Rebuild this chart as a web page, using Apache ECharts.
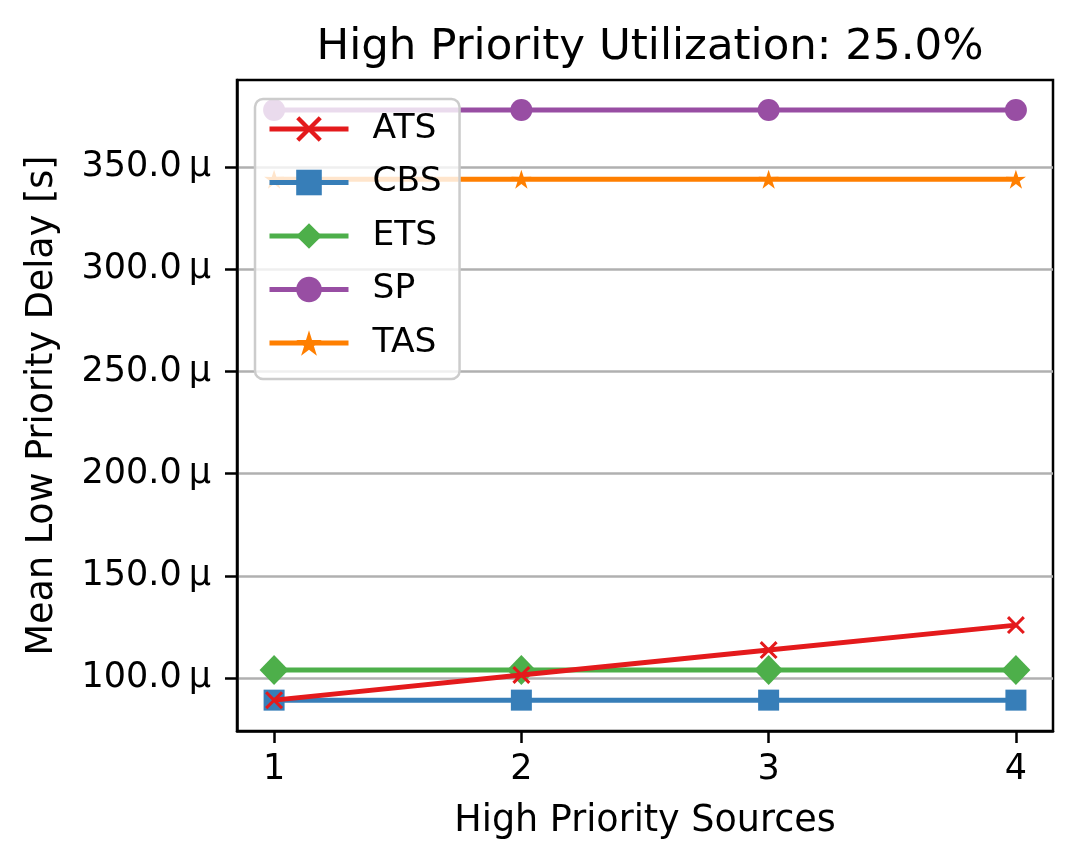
<!DOCTYPE html>
<html>
<head>
<meta charset="utf-8">
<script src="https://cdn.jsdelivr.net/npm/echarts@6/dist/echarts.min.js"></script>
<style>html,body{margin:0;padding:0;background:#fff}#c{width:1080px;height:868px}</style>
</head>
<body>
<div id="c"></div>
<script>
const sources = [1, 2, 3, 4];
const seriesNames = ['ATS', 'CBS', 'ETS', 'SP', 'TAS'];
const ATS = [89.2, 101.5, 113.7, 125.9];
const CBS = [89.2, 89.2, 89.2, 89.2];
const ETS = [103.9, 103.9, 103.9, 103.9];
const SP = [377.9, 377.9, 377.9, 377.9];
const TAS = [344.1, 344.1, 344.1, 344.1];
const yTicks = [100, 150, 200, 250, 300, 350];
const xTicks = [1, 2, 3, 4];

const colors = {ATS:'#e41a1c', CBS:'#377eb8', ETS:'#4daf4a', SP:'#984ea3', TAS:'#ff7f00'};
const crossPath = 'path://M0,1.2 L1.2,0 L5,3.8 L8.8,0 L10,1.2 L6.2,5 L10,8.8 L8.8,10 L5,6.2 L1.2,10 L0,8.8 L3.8,5 Z';
const starPath = 'path://M50,0 L61.2,34.6 L97.6,34.5 L68.1,55.9 L79.4,90.5 L50,69 L20.6,90.5 L31.9,55.9 L2.4,34.5 L38.8,34.6 Z';
const symbols = {
  ATS: {symbol: crossPath, size: 18},
  CBS: {symbol: 'rect', size: 21},
  ETS: {symbol: 'diamond', size: [29, 30]},
  SP: {symbol: 'circle', size: 22},
  TAS: {symbol: starPath, size: 20}
};
const dataMap = {ATS, CBS, ETS, SP, TAS};
const zMap = {ATS: 10, CBS: 3, ETS: 4, SP: 5, TAS: 6};
const font = 'DejaVu Sans';

const series = seriesNames.map(n => ({
  name: n,
  type: 'line',
  data: sources.map((x, i) => [x, dataMap[n][i]]),
  symbol: symbols[n].symbol,
  symbolSize: symbols[n].size,
  symbolKeepAspect: true,
  showAllSymbol: true,
  z: zMap[n],
  lineStyle: {color: colors[n], width: 5},
  itemStyle: {color: colors[n], opacity: 1},
  emphasis: {disabled: true},
  animation: false
}));

const chart = echarts.init(document.getElementById('c'), null, {renderer: 'canvas'});
chart.setOption({
  animation: false,
  backgroundColor: '#ffffff',
  title: {
    text: 'High Priority Utilization: 25.0%',
    left: 645,
    textAlign: 'center',
    top: 21,
    textStyle: {fontFamily: font, fontSize: 43.5, fontWeight: 'normal', color: '#000'}
  },
  legend: {
    data: seriesNames,
    orient: 'vertical',
    left: 255,
    top: 99,
    padding: [12, 18, 18, 12],
    itemGap: 17.5,
    itemWidth: 79,
    itemHeight: 32,
    backgroundColor: 'rgba(255,255,255,0.8)',
    borderColor: '#cccccc',
    borderWidth: 2.5,
    borderRadius: 8,
    lineStyle: {width: 5},
    textStyle: {fontFamily: font, fontSize: 34.5, lineHeight: 36, color: '#000', padding: [0, 0, 0, 19]},
    z: 20
  },
  grid: {left: 237, right: 27, top: 80, bottom: 137, containLabel: false,
         show: true, borderColor: '#000', borderWidth: 2.5, backgroundColor: 'transparent'},
  xAxis: {
    type: 'value',
    min: 0.85,
    max: 4.15,
    name: 'High Priority Sources',
    nameLocation: 'middle',
    nameGap: 72,
    nameTextStyle: {fontFamily: font, fontSize: 36.5, color: '#000'},
    axisLine: {show: true, onZero: false, lineStyle: {color: '#000', width: 2.5}},
    axisTick: {show: true, inside: false, length: 12, lineStyle: {color: '#000', width: 2.5}, customValues: xTicks},
    axisLabel: {fontFamily: font, fontSize: 35, color: '#000', margin: 21, customValues: xTicks, formatter: v => String(v)},
    splitLine: {show: false}
  },
  yAxis: {
    type: 'value',
    min: 74.1,
    max: 392.6,
    name: 'Mean Low Priority Delay [s]',
    nameLocation: 'middle',
    nameGap: 176,
    nameRotate: 90,
    nameTextStyle: {fontFamily: font, fontSize: 36.5, color: '#000'},
    axisLine: {show: true, onZero: false, lineStyle: {color: '#000', width: 2.5}},
    axisTick: {show: true, inside: false, length: 12, lineStyle: {color: '#000', width: 2.5}, customValues: yTicks},
    axisLabel: {fontFamily: font, fontSize: 35, color: '#000', margin: 26, customValues: yTicks, formatter: v => v.toFixed(1) + '\u2009\u00b5'},
    splitLine: {show: true, lineStyle: {color: '#b0b0b0', width: 2.5}}
  },
  series: series
});
</script>
</body>
</html>
